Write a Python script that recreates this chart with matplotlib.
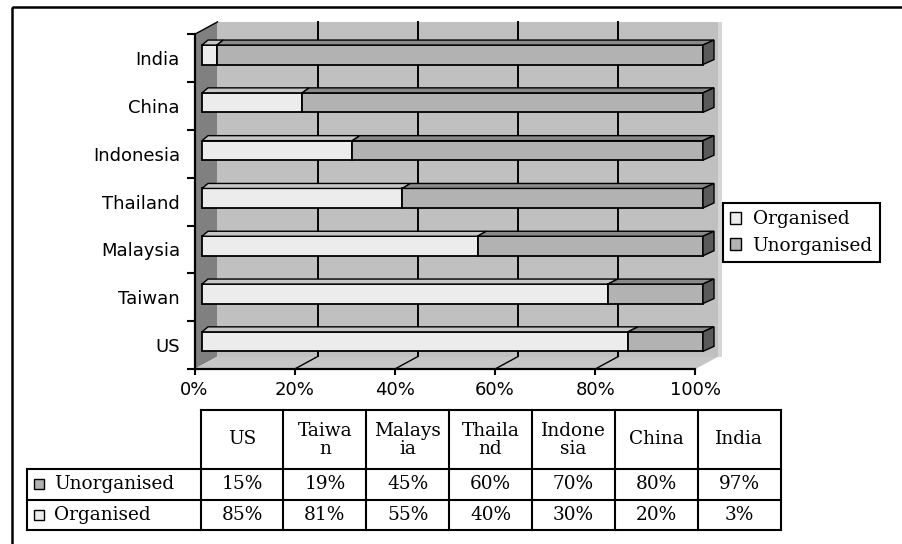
import matplotlib.pyplot as plt
from matplotlib.patches import Polygon, Rectangle, Patch
import numpy as np

countries = ["US", "Taiwan", "Malaysia", "Thailand", "Indonesia", "China", "India"]
organised = [85, 81, 55, 40, 30, 20, 3]
unorganised = [15, 19, 45, 60, 70, 80, 97]
table_heads = ["US", "Taiwa\nn", "Malays\nia", "Thaila\nnd", "Indone\nsia", "China", "India"]
series = ["Organised", "Unorganised"]
x_ticks = [0, 20, 40, 60, 80, 100]

c_org = "#ececec"
c_unorg = "#b2b2b2"
serif = {"family": "DejaVu Serif", "size": 13.3}

W, H = 902, 544
fig = plt.figure(figsize=(W / 100, H / 100), dpi=100)

# overlay in pixel coords: outer frame and the data table
frame = fig.add_axes([0, 0, 1, 1])
frame.set_xlim(0, W)
frame.set_ylim(H, 0)
frame.axis("off")

# chart axes, x 0..100 -> px 194.5..695.5, category edges -0.5..6.5 -> px 369..34.5
px0, pxs = 194.5, 5.01
py0, pys = 369.0, 47.8
xlim = (-3.5, 107.5)
ylim = (-0.8, 7.0)
left = px0 + xlim[0] * pxs
right = px0 + xlim[1] * pxs
bottom = py0 - (ylim[0] + 0.5) * pys
top = py0 - (ylim[1] + 0.5) * pys
ax = fig.add_axes([left / W, 1 - bottom / H, (right - left) / W, (bottom - top) / H])
ax.patch.set_visible(False)
ax.set_xlim(xlim)
ax.set_ylim(ylim)

# 3d box: side wall, floor, back wall
DX = 23 / pxs
DY = 12.5 / pys
n = len(countries)
y_lo, y_hi = -0.5, n - 0.5
ax.add_patch(Polygon([(0, y_lo), (0, y_hi), (DX, y_hi + DY), (DX, y_lo + DY)],
                     fc="#808080", ec="none", zorder=1))
ax.add_patch(Polygon([(0, y_lo), (100, y_lo), (100 + DX, y_lo + DY), (DX, y_lo + DY)],
                     fc="#c6c6c6", ec="none", zorder=1))
ax.add_patch(Rectangle((DX, y_lo + DY), 100, n, fc="#c0c0c0", ec="none", zorder=1))
ax.add_patch(Rectangle((100 + DX, y_lo + DY), 0.7, n, fc="#d6d6d6", ec="none", zorder=1))
ax.plot([0, DX], [y_hi, y_hi + DY], color="k", lw=1.0, zorder=1.2)

for v in x_ticks[1:-1]:
    ax.plot([v + DX, v + DX], [y_lo + DY, y_hi + DY], color="k", lw=1.4, zorder=1.2)
    ax.plot([v, v + DX], [y_lo, y_lo + DY], color="k", lw=1.0, zorder=1.2)

# bars
BX = 7.5 / pxs
BH = 19.5 / pys
BC = 3.5 / pys
TD = 5 / pys


def depth(x):
    return (6 + 5 * x / 100) / pxs


for i, (o, u) in enumerate(zip(organised, unorganised)):
    yb = i + BC - BH / 2
    yt = yb + BH
    segs = [(0, o, c_org, "#c6c6c6"), (o, o + u, c_unorg, "#8a8a8a")]
    for a, b, fc, tc in segs:
        ax.add_patch(Rectangle((BX + a, yb), b - a, BH, fc=fc, ec="k", lw=1.3, zorder=3))
        ax.add_patch(Polygon([(BX + a, yt), (BX + b, yt),
                              (BX + b + depth(b), yt + TD), (BX + a + depth(a), yt + TD)],
                             fc=tc, ec="k", lw=1.0, zorder=3))
    end = o + u
    ax.add_patch(Polygon([(BX + end, yb), (BX + end, yt),
                          (BX + end + depth(end), yt + TD), (BX + end + depth(end), yb + TD)],
                         fc="#5a5a5a", ec="k", lw=1.0, zorder=3))

# axes
ax.spines["top"].set_visible(False)
ax.spines["right"].set_visible(False)
ax.spines["left"].set_position(("data", 0))
ax.spines["left"].set_bounds(y_lo, y_hi)
ax.spines["bottom"].set_position(("data", y_lo))
ax.spines["bottom"].set_bounds(0, 100)
for s in ["left", "bottom"]:
    ax.spines[s].set_linewidth(1.6)
ax.set_xticks(x_ticks)
ax.set_xticklabels([f"{v}%" for v in x_ticks])
ax.set_yticks(np.arange(y_lo, y_hi + 0.5, 1))
ax.set_yticklabels([])
ax.set_yticks(range(n), minor=True)
ax.set_yticklabels(countries, minor=True)
ax.tick_params(axis="y", which="major", length=5.5, width=1.5, direction="out")
ax.tick_params(axis="y", which="minor", length=0, pad=10.5, labelsize=13)
ax.tick_params(axis="x", length=4.5, width=1.5, pad=4, labelsize=13)

# legend
handles = [Patch(fc=c_org, ec="k", lw=1.0), Patch(fc=c_unorg, ec="k", lw=1.0)]
leg = fig.legend(handles, series, loc="upper left", bbox_to_anchor=(723 / W, 1 - 203 / H),
                 frameon=True, fancybox=False, edgecolor="k", framealpha=1,
                 borderpad=0.4, handlelength=0.6, handleheight=0.6, handletextpad=0.6,
                 labelspacing=0.45, borderaxespad=0, prop=serif)
leg.get_frame().set_linewidth(1.5)

# data table
col_left, col_w = 200.5, 82.9
lab_left = 27
row_y = [410, 469, 499.5, 530]
tab_right = col_left + col_w * n
lw = 1.5
frame.plot([col_left, tab_right], [row_y[0], row_y[0]], color="k", lw=lw)
for y in row_y[1:]:
    frame.plot([lab_left, tab_right], [y, y], color="k", lw=lw)
frame.plot([lab_left, lab_left], [row_y[1], row_y[3]], color="k", lw=lw)
for j in range(n + 1):
    x = col_left + j * col_w
    frame.plot([x, x], [row_y[0], row_y[3]], color="k", lw=lw)

for j, head in enumerate(table_heads):
    cx = col_left + (j + 0.5) * col_w
    frame.text(cx, (row_y[0] + row_y[1]) / 2, head, ha="center", va="center",
               linespacing=1.0, **serif)

rows = [("Unorganised", c_unorg, unorganised), ("Organised", c_org, organised)]
for r, (name, color, vals) in enumerate(rows):
    cy = (row_y[r + 1] + row_y[r + 2]) / 2
    frame.add_patch(Rectangle((34, cy - 5), 10, 10, fc=color, ec="k", lw=1.0))
    frame.text(54, cy, name, ha="left", va="center", **serif)
    for j, v in enumerate(vals):
        cx = col_left + (j + 0.5) * col_w
        frame.text(cx, cy, f"{v}%", ha="center", va="center", **serif)

# outer border
frame.add_patch(Rectangle((12, 7), 1000, 1000, fill=False, ec="k", lw=1.8, clip_on=False))

fig.savefig("out.png", dpi=100)
